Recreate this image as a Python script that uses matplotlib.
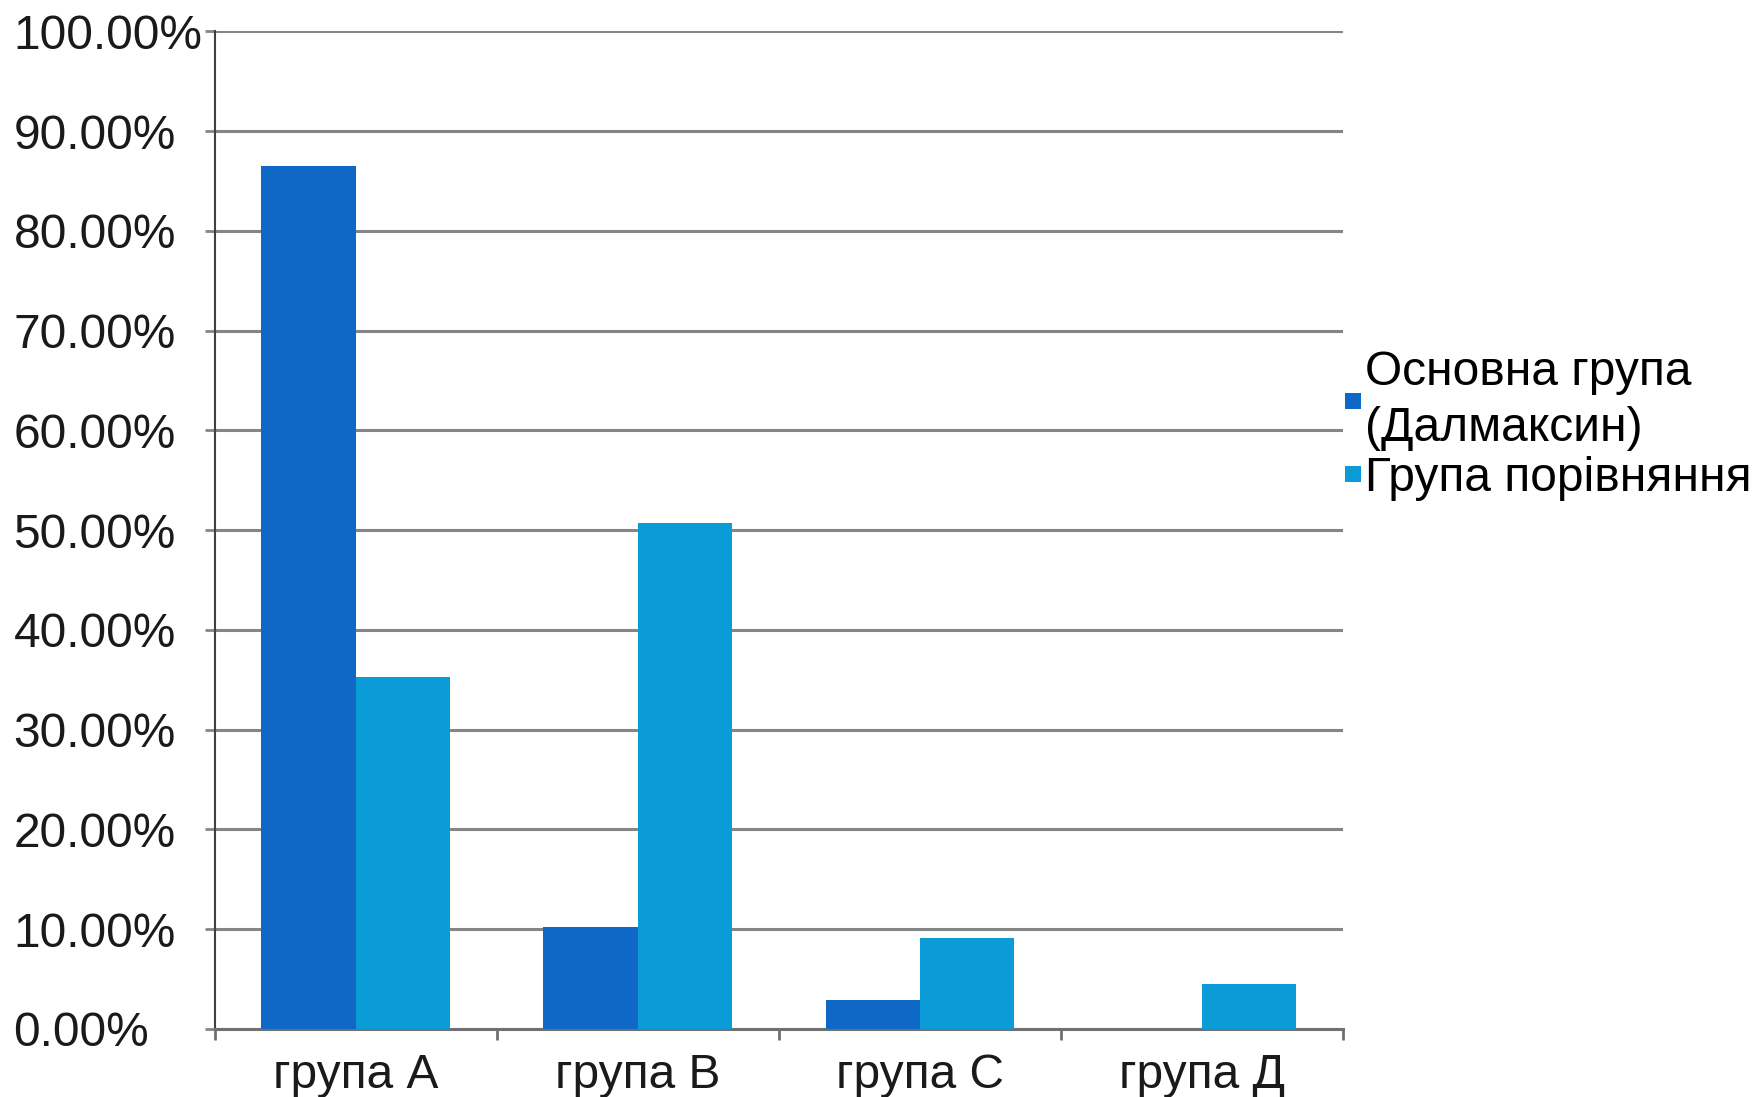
import numpy as np
import matplotlib.pyplot as plt
from matplotlib.lines import Line2D

plt.rcParams['font.family'] = ['Liberation Sans', 'DejaVu Sans']

# data (percent)
categories = ['група А', 'група В', 'група С', 'група Д']
main_group = [86.5, 10.2, 2.9, 0.0]
compare_group = [35.3, 50.7, 9.1, 4.5]
series_names = ['Основна група\n(Далмаксин)', 'Група порівняння']
colors = ['#1068c6', '#0b9bd7']

fig = plt.figure(figsize=(17.59, 10.97), dpi=100)
ax = fig.add_axes([0.1222, 0.062, 0.6413, 0.9094])

x = np.arange(len(categories))
w = 0.335
ax.bar(x - w/2, main_group, w, color=colors[0], zorder=3)
ax.bar(x + w/2, compare_group, w, color=colors[1], zorder=3)

ax.set_xlim(-0.5, len(categories) - 0.5)
ax.set_ylim(0, 100)

yt = np.arange(0, 101, 10)
ax.set_yticks(yt)
ax.set_yticklabels(['{:.2f}%'.format(v) for v in yt], fontsize=34.5, color='#1a1a1a', ha='left')
ax.yaxis.grid(True, color='#858585', linewidth=2.2, zorder=0)
# left-aligned labels: pad (points) from tick end to the label's left edge
ax.tick_params(axis='y', length=7, width=2, color='#858585', pad=138)

ax.set_xticks(x)
ax.set_xticklabels(categories, fontsize=34.5, color='#1a1a1a')
ax.set_xticks(np.arange(-0.5, len(categories)), minor=True)
ax.tick_params(axis='x', which='major', length=0, pad=17)
ax.tick_params(axis='x', which='minor', length=8, width=2, color='#707070')

for s in ['top', 'right']:
    ax.spines[s].set_visible(False)
ax.spines['left'].set_color('#404040')
ax.spines['left'].set_linewidth(1.5)
ax.spines['bottom'].set_color('#707070')
ax.spines['bottom'].set_linewidth(2.2)

handles = [Line2D([], [], linestyle='none', marker='s', markersize=12,
                  markerfacecolor=c, markeredgewidth=0) for c in colors]
leg = fig.legend(handles, series_names, loc='center left', bbox_to_anchor=(0.7515, 0.612),
                 frameon=False, fontsize=34.5, handlelength=0.3,
                 handletextpad=0.1, labelspacing=0.1, borderpad=0)
for t in leg.get_texts():
    t.set_linespacing(1.3)

fig.savefig('out.png', dpi=100, facecolor='white')
